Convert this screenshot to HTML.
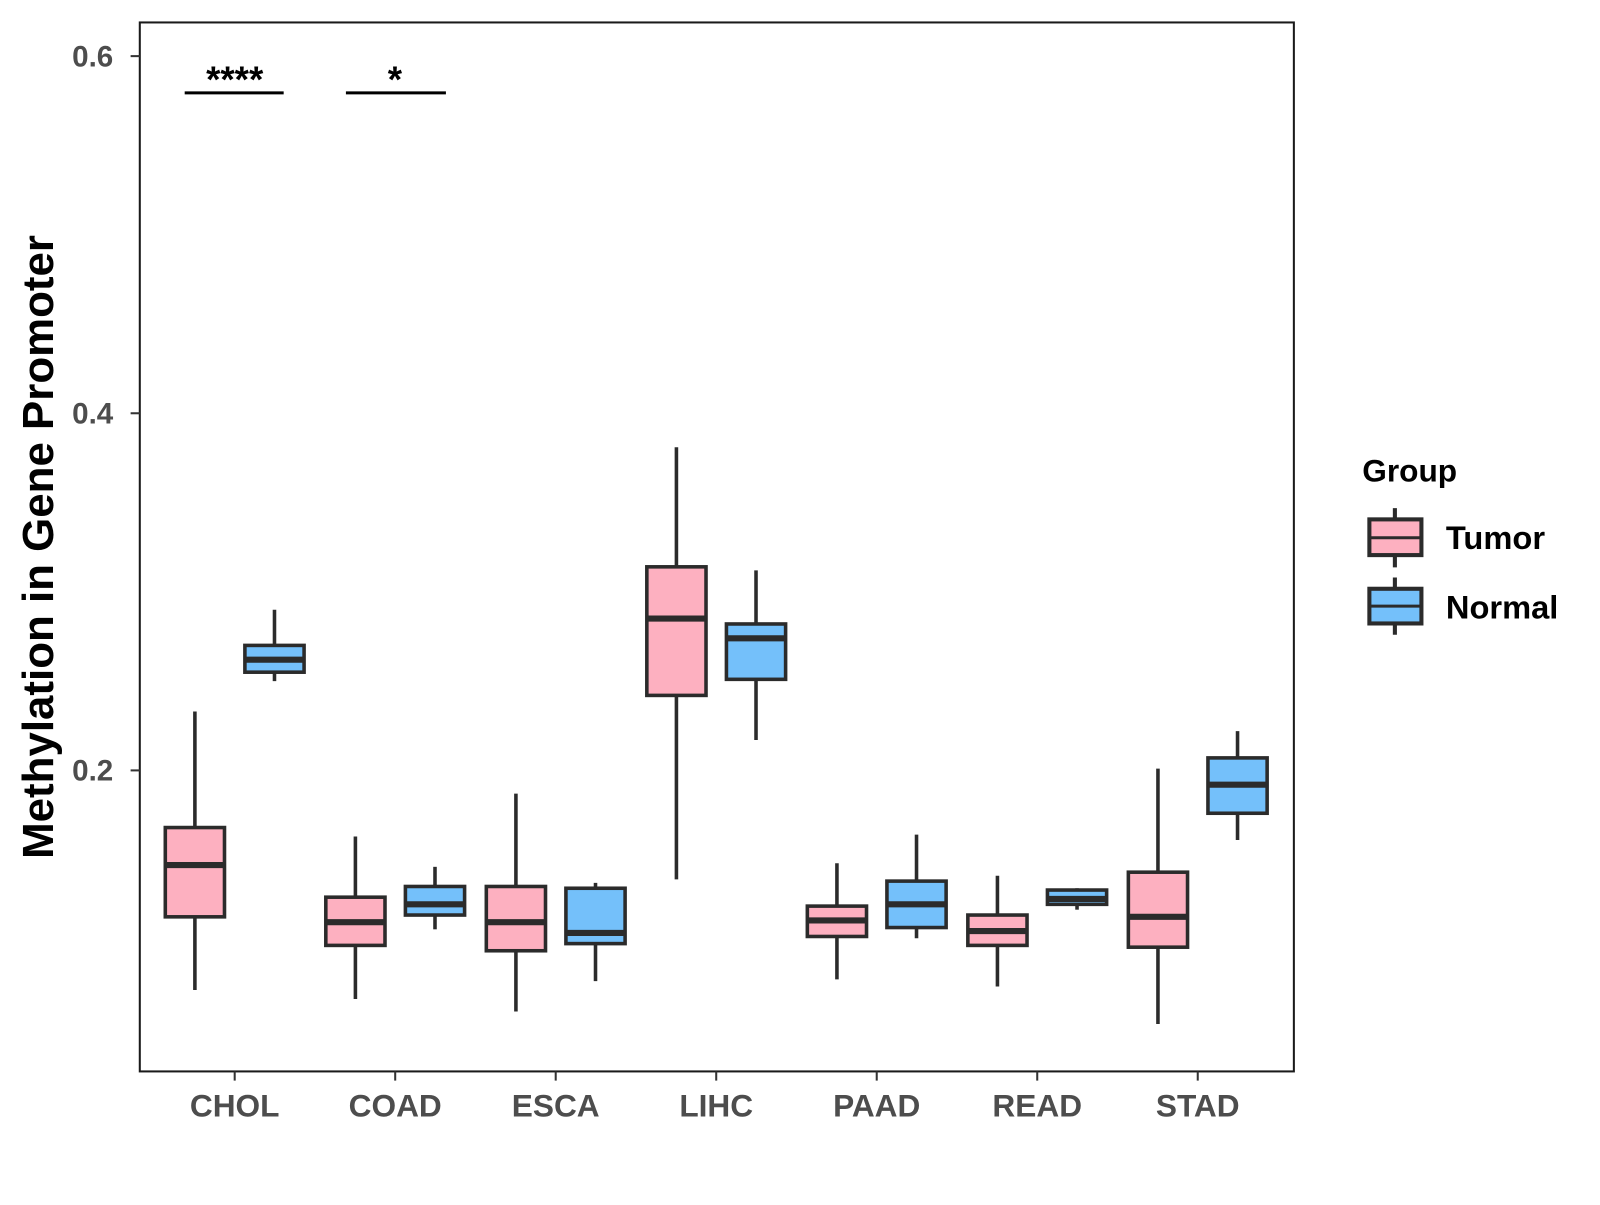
<!DOCTYPE html>
<html><head><meta charset="utf-8"><style>
body{margin:0;background:#fff}
svg text{font-family:"Liberation Sans",Arial,sans-serif;font-weight:bold}
</style></head><body>
<svg id="chart" width="1600" height="1200" viewBox="0 0 1600 1200" xmlns="http://www.w3.org/2000/svg">
<rect x="0" y="0" width="1600" height="1200" fill="#fff"/>
<g transform="scale(1.0204)">
<rect x="137" y="22" width="1131" height="1028" fill="none" stroke="#1a1a1a" stroke-width="2"/>
<g id="yaxis"></g>
<g id="xaxis"></g>
<g id="boxes"></g>
<text x="52" y="536" font-size="43" fill="#000" text-anchor="middle" transform="rotate(-90 52 536)">Methylation in Gene Promoter</text>
<g>
<line x1="181" y1="91" x2="278" y2="91" stroke="#000" stroke-width="3"/>
<text x="230" y="90" font-size="36" text-anchor="middle" fill="#000">****</text>
</g>
<g>
<line x1="339" y1="91" x2="437" y2="91" stroke="#000" stroke-width="3"/>
<text x="387" y="90" font-size="36" text-anchor="middle" fill="#000">*</text>
</g>
<g>
<text x="1335" y="472" font-size="31" fill="#000">Group</text>
<g>
<line x1="1367" y1="498" x2="1367" y2="556" stroke="#2b2b2b" stroke-width="4"/>
<rect x="1342" y="509" width="51" height="35" fill="#FDB0C0" stroke="#2b2b2b" stroke-width="4"/>
<line x1="1342" y1="527" x2="1393" y2="527" stroke="#2b2b2b" stroke-width="3"/>
<text x="1417" y="538" font-size="32" fill="#000">Tumor</text>
</g>
<g>
<line x1="1367" y1="566" x2="1367" y2="622" stroke="#2b2b2b" stroke-width="4"/>
<rect x="1342" y="577" width="51" height="34" fill="#74C0FA" stroke="#2b2b2b" stroke-width="4"/>
<line x1="1342" y1="594" x2="1393" y2="594" stroke="#2b2b2b" stroke-width="3"/>
<text x="1417" y="606" font-size="32" fill="#000">Normal</text>
</g>
</g>
</g>
</svg>
<script>
const categories=["CHOL","COAD","ESCA","LIHC","PAAD","READ","STAD"];
const yTicks=[0.2,0.4,0.6];
const yTickLabels=["0.2","0.4","0.6"];
const tumorLow=[0.077,0.072,0.065,0.139,0.083,0.079,0.058];
const tumorQ1=[0.118,0.102,0.099,0.242,0.107,0.102,0.101];
const tumorMed=[0.147,0.115,0.115,0.285,0.116,0.110,0.118];
const tumorQ3=[0.168,0.129,0.135,0.314,0.124,0.119,0.143];
const tumorHigh=[0.233,0.163,0.187,0.381,0.148,0.141,0.201];
const normalLow=[0.250,0.111,0.082,0.217,0.106,0.122,0.161];
const normalQ1=[0.255,0.119,0.103,0.251,0.112,0.125,0.176];
const normalMed=[0.262,0.125,0.109,0.274,0.125,0.128,0.192];
const normalQ3=[0.270,0.135,0.134,0.282,0.138,0.133,0.207];
const normalHigh=[0.290,0.146,0.137,0.312,0.164,0.134,0.222];
const NS="http://www.w3.org/2000/svg";
const yScale=v=>755-(v-0.2)*1750;
const xScale=i=>230+i*157.3;
function mk(tag,attrs,parent){const e=document.createElementNS(NS,tag);for(const k in attrs)e.setAttribute(k,attrs[k]);parent.appendChild(e);return e;}
const ya=document.getElementById('yaxis');
yTicks.forEach((v,i)=>{
  const y=yScale(v);
  const t=mk('line',{x1:128,x2:137,y1:y,y2:y,stroke:'#333','stroke-width':2},ya);
  
  
  const l=mk('text',{x:111,y:y+10,'font-size':29,fill:'#4d4d4d','text-anchor':'end'},ya);
  l.textContent=yTickLabels[i];
  
  
});
const xa=document.getElementById('xaxis');
categories.forEach((c,i)=>{
  const x=xScale(i);
  const t=mk('line',{x1:x,x2:x,y1:1050,y2:1059,stroke:'#333','stroke-width':2},xa);
  
  
  const l=mk('text',{x:x,y:1094,'font-size':31,fill:'#4d4d4d','text-anchor':'middle'},xa);
  l.textContent=c;
  
  
});
const bx=document.getElementById('boxes');
function drawBox(cx,lo,q1,md,q3,hi,fill,name){
  const g=mk('g',{},bx);
  
  
  mk('line',{x1:cx,x2:cx,y1:yScale(lo),y2:yScale(hi),stroke:'#2b2b2b','stroke-width':3.5},g);
  mk('rect',{x:cx-29,y:yScale(q3),width:58,height:yScale(q1)-yScale(q3),fill:fill,stroke:'#2b2b2b','stroke-width':3.5},g);
  mk('line',{x1:cx-29,x2:cx+29,y1:yScale(md),y2:yScale(md),stroke:'#2b2b2b','stroke-width':6},g);
}
categories.forEach((c,i)=>{
  drawBox(xScale(i)-39,tumorLow[i],tumorQ1[i],tumorMed[i],tumorQ3[i],tumorHigh[i],'#FDB0C0','box-tumor-'+c.toLowerCase());
  drawBox(xScale(i)+39,normalLow[i],normalQ1[i],normalMed[i],normalQ3[i],normalHigh[i],'#74C0FA','box-normal-'+c.toLowerCase());
});
</script>
</body></html>
